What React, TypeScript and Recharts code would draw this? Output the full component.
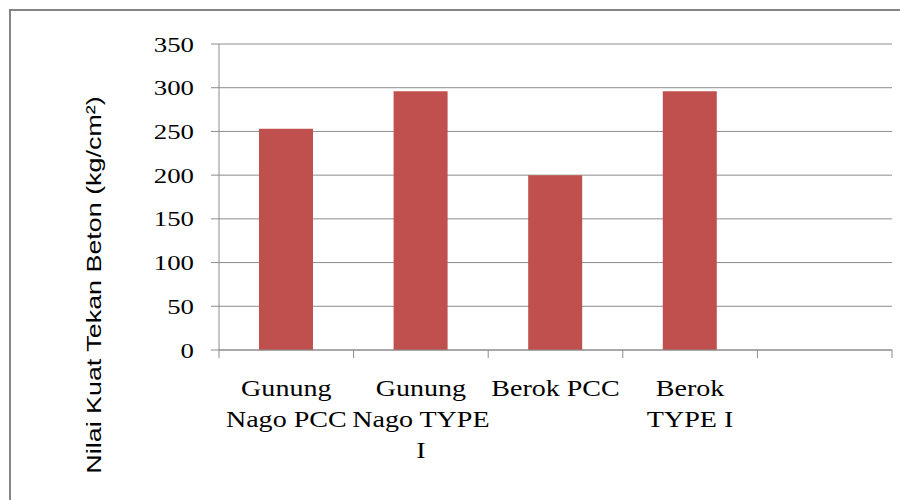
import { Bar, BarChart, CartesianGrid, XAxis, YAxis } from "recharts";

const categories = [
  "Gunung Nago PCC",
  "Gunung Nago TYPE I",
  "Berok PCC",
  "Berok TYPE I",
  "",
];
const strength = [253, 296, 200, 296, null];
const yTicks = [0, 50, 100, 150, 200, 250, 300, 350];

const data = categories.map((name, i) => ({ name, value: strength[i] }));

const PLOT_LEFT = 219;
const PLOT_RIGHT = 892;
const BAND = (PLOT_RIGHT - PLOT_LEFT) / categories.length;
const GRID = "#8c8c8c";
const SERIF = "'Liberation Serif', 'Times New Roman', serif";
// the original text is stretched sideways a bit
const STRETCH = 1.22;

// greedy word wrap, roughly how the original breaks its labels
const wrap = (label: string, max = 9) => {
  const lines: string[] = [];
  let cur = "";
  label.split(" ").forEach((w) => {
    const next = cur ? cur + " " + w : w;
    if (next.length > max && cur) {
      lines.push(cur);
      cur = w;
    } else {
      cur = next;
    }
  });
  if (cur) lines.push(cur);
  return lines;
};

const CategoryTick = (props: any) => {
  const { x, y, payload, index } = props;
  const lines = wrap(payload.value || "");
  const isLast = index === categories.length - 1;
  return (
    <g>
      <line x1={x - BAND / 2} x2={x - BAND / 2} y1={y - 8} y2={y} stroke={GRID} />
      {isLast && (
        <line x1={x + BAND / 2} x2={x + BAND / 2} y1={y - 8} y2={y} stroke={GRID} />
      )}
      <g transform={`translate(${x} ${y + 38}) scale(${STRETCH} 1)`}>
        <text textAnchor="middle" fill="#000" fontFamily={SERIF} fontSize={23}>
          {lines.map((l, i) => (
            <tspan key={i} x={0} dy={i === 0 ? 0 : 31}>
              {l}
            </tspan>
          ))}
        </text>
      </g>
    </g>
  );
};

const ValueTick = (props: any) => {
  const { x, y, payload } = props;
  return (
    <g transform={`translate(${x} ${y}) scale(${STRETCH} 1)`}>
      <text
        textAnchor="end"
        dominantBaseline="central"
        fill="#000"
        fontFamily={SERIF}
        fontSize={22}
      >
        {payload.value}
      </text>
    </g>
  );
};

const AxisTitle = () => (
  <g transform="translate(94 285) rotate(-90) scale(1.28 1)">
    <text
      textAnchor="middle"
      dominantBaseline="central"
      fontFamily="'Liberation Sans', Arial, sans-serif"
      fontSize={21}
      fill="#000"
    >
      Nilai Kuat Tekan Beton (kg/cm²)
    </text>
  </g>
);

export default function App() {
  return (
    <div
      style={{
        position: "absolute",
        left: 0,
        top: 0,
        width: 900,
        height: 500,
        background: "#fff",
        overflow: "hidden",
      }}
    >
      <div
        style={{
          position: "absolute",
          left: 9,
          top: 9,
          width: 900,
          height: 500,
          border: "2px solid #858585",
        }}
      />
      <div style={{ position: "absolute", left: 0, top: 0 }}>
        <BarChart
          width={900}
          height={500}
          data={data}
          margin={{ top: 44, right: 900 - PLOT_RIGHT, left: 0, bottom: 0 }}
        >
          <CartesianGrid vertical={false} stroke={GRID} />
          <XAxis
            dataKey="name"
            height={150}
            tickLine={false}
            tickSize={8}
            tickMargin={0}
            axisLine={{ stroke: GRID }}
            interval={0}
            tick={<CategoryTick />}
          />
          <YAxis
            width={PLOT_LEFT}
            domain={[0, 350]}
            ticks={yTicks}
            tickSize={8}
            tickMargin={17}
            axisLine={{ stroke: GRID }}
            tickLine={{ stroke: GRID }}
            tick={<ValueTick />}
            label={<AxisTitle />}
          />
          <Bar
            dataKey="value"
            fill="#C0504D"
            barSize={54}
            isAnimationActive={false}
          />
        </BarChart>
      </div>
    </div>
  );
}
